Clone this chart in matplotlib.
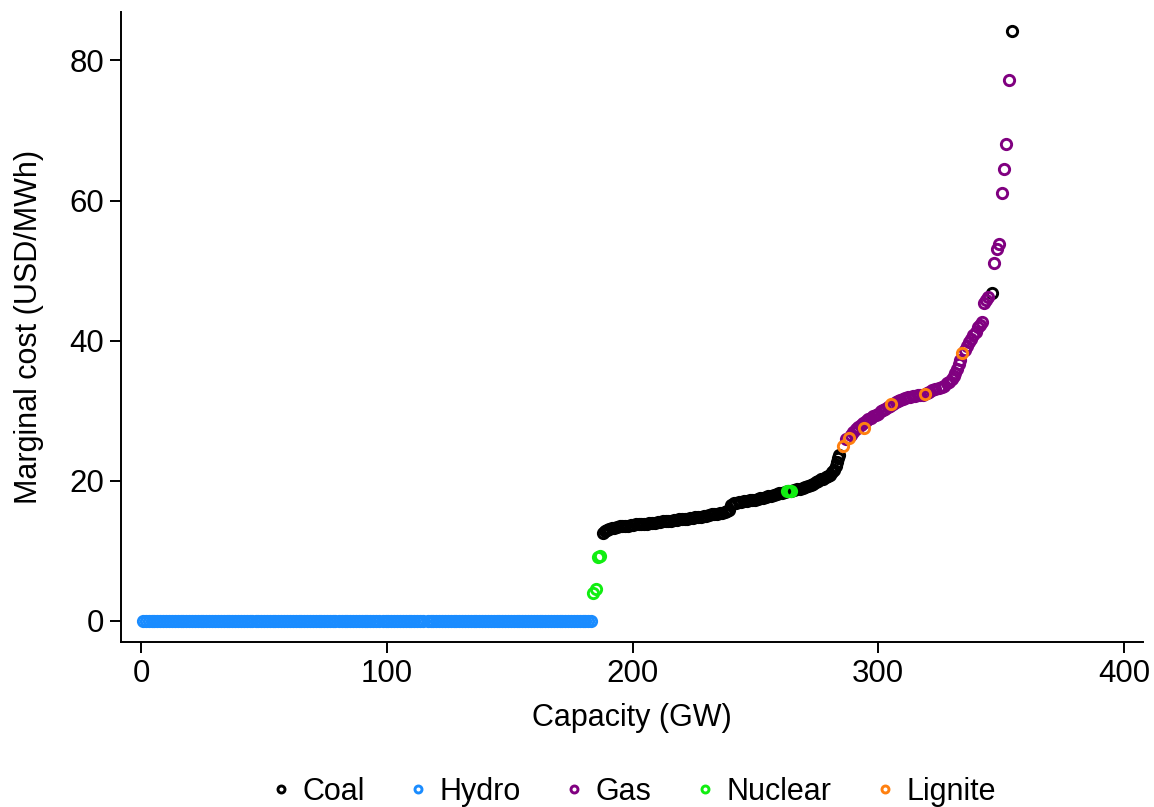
import matplotlib.pyplot as plt

plt.rcParams['font.family'] = ['Liberation Sans', 'DejaVu Sans']

# merit order: cumulative capacity (GW) and marginal cost (USD/MWh) per technology
hydro_gw = [0.8, 2.0, 3.1, 4.3, 5.4, 6.6, 7.9, 9.0, 10.2, 11.3, 12.5, 13.8, 14.9, 16.1,
            17.2, 18.4, 19.6, 20.8, 21.9, 23.1, 24.3, 25.4, 26.6, 27.8, 29.0, 30.1, 31.3,
            32.4, 33.7, 34.8, 36.0, 37.2, 38.3, 39.5, 40.7, 41.8, 43.0, 44.2, 45.3, 46.6,
            47.7, 48.9, 50.1, 51.2, 52.4, 53.6, 54.7, 55.9, 57.1, 58.2, 59.4, 60.6, 61.8,
            62.9, 64.1, 65.3, 66.4, 67.6, 68.8, 69.9, 71.1, 72.3, 73.4, 74.6, 75.8, 76.9,
            78.1, 78.9, 80.5, 81.6, 82.8, 84.0, 85.1, 86.3, 87.5, 88.6, 89.8, 91.0, 92.1,
            93.3, 94.5, 95.6, 96.8, 98.4, 99.5, 100.7, 101.9, 103.0, 104.2, 105.4, 106.5,
            107.7, 108.9, 110.0, 111.2, 112.4, 113.5, 114.9, 116.7, 117.8, 119.0, 120.2,
            121.3, 122.5, 123.7, 124.8, 126.0, 127.2, 128.3, 129.5, 130.7, 131.8, 133.0,
            134.2, 135.3, 136.5, 137.7, 138.8, 140.0, 141.2, 142.3, 143.5, 144.7, 145.8,
            147.0, 148.2, 149.3, 150.5, 151.7, 152.8, 154.0, 155.2, 156.3, 157.5, 158.7,
            159.8, 161.0, 162.2, 163.3, 164.5, 165.7, 166.8, 168.0, 169.2, 170.3, 171.5,
            172.7, 173.8, 175.0, 176.2, 177.3, 178.5, 179.7, 180.8, 181.9, 183.3]
hydro_cost = [0.0] * len(hydro_gw)

nuclear_gw = [183.9, 185.2, 185.9, 186.9, 262.9, 263.6, 264.4]
nuclear_cost = [4.0, 4.6, 9.2, 9.3, 18.6, 18.6, 18.6]

coal_gw = [187.8, 188.6, 189.5, 190.5, 191.5, 192.6, 193.7, 194.8, 195.9, 197.0, 198.1,
           199.2, 200.3, 201.4, 202.5, 203.6, 204.7, 205.8, 206.9, 208.0, 209.1, 210.2,
           211.3, 212.4, 213.5, 214.6, 215.7, 216.8, 217.9, 219.0, 220.1, 221.2, 222.3,
           223.4, 224.5, 225.6, 226.7, 227.8, 228.9, 230.0, 231.1, 232.2, 233.3, 234.4,
           235.5, 236.6, 237.7, 238.6, 239.4, 240.2, 241.1, 242.1, 243.2, 244.3, 245.4,
           246.5, 247.6, 248.7, 249.8, 250.9, 252.0, 253.1, 254.2, 255.3, 256.4, 257.5,
           258.6, 259.7, 260.8, 262.0, 263.2, 264.4, 265.6, 266.8, 268.0, 269.2, 270.3,
           271.4, 272.5, 273.6, 274.6, 275.6, 276.6, 277.6, 278.6, 279.6, 280.5, 281.3,
           282.0, 282.6, 283.1, 283.6, 284.1, 346.3, 354.5]
coal_cost = [12.6, 12.8, 13.0, 13.1, 13.2, 13.3, 13.4, 13.5, 13.5, 13.6, 13.6,
             13.7, 13.7, 13.8, 13.8, 13.8, 13.9, 13.9, 14.0, 14.0, 14.0, 14.1,
             14.1, 14.2, 14.2, 14.3, 14.3, 14.4, 14.4, 14.5, 14.5, 14.6, 14.6,
             14.7, 14.7, 14.8, 14.8, 14.9, 15.0, 15.0, 15.1, 15.2, 15.2, 15.3,
             15.4, 15.4, 15.5, 15.7, 15.9, 16.5, 16.8, 16.9, 17.0, 17.0, 17.1,
             17.1, 17.2, 17.3, 17.3, 17.4, 17.5, 17.6, 17.7, 17.8, 17.9, 18.0,
             18.1, 18.2, 18.3, 18.4, 18.5, 18.6, 18.7, 18.8, 18.9, 19.0, 19.1,
             19.3, 19.4, 19.6, 19.8, 20.0, 20.2, 20.3, 20.5, 20.7, 20.9, 21.2,
             21.5, 22.1, 22.7, 23.2, 23.7, 46.8, 84.2]

gas_gw = [287.0, 288.9, 289.9, 290.9, 291.9, 292.9, 293.9, 294.9, 295.9, 296.9, 297.9,
          298.9, 299.9, 300.9, 301.9, 302.9, 303.9, 304.9, 306.0, 307.0, 308.0, 309.0,
          310.0, 311.0, 312.0, 313.0, 314.0, 315.0, 316.0, 317.0, 318.0, 319.8, 320.8,
          322.0, 323.2, 324.6, 325.8, 326.8, 327.8, 328.8, 329.8, 330.6, 331.4, 332.1,
          332.8, 333.4, 335.4, 336.2, 337.0, 337.8, 338.6, 339.6, 340.4, 341.2, 342.1,
          343.2, 344.0, 344.8, 347.2, 348.3, 349.1, 350.3, 351.2, 352.0, 353.3]
gas_cost = [26.0, 26.6, 27.0, 27.4, 27.7, 28.0, 28.3, 28.5, 28.8, 29.0, 29.2,
            29.4, 29.6, 29.9, 30.1, 30.3, 30.5, 30.7, 31.0, 31.2, 31.4, 31.5,
            31.7, 31.8, 31.9, 32.0, 32.1, 32.1, 32.2, 32.2, 32.3, 32.5, 32.7,
            33.0, 33.1, 33.2, 33.4, 33.6, 33.9, 34.1, 34.5, 34.9, 35.4, 35.9,
            36.6, 37.3, 38.7, 39.2, 39.8, 40.3, 40.8, 41.3, 41.9, 42.3, 42.6,
            45.4, 45.8, 46.3, 51.1, 53.1, 53.8, 61.1, 64.5, 68.0, 77.2]

lignite_gw = [285.5, 288.2, 294.3, 305.3, 319.1, 334.1]
lignite_cost = [24.9, 26.1, 27.5, 30.9, 32.4, 38.2]

series = [
    ('Coal', coal_gw, coal_cost, 'black'),
    ('Hydro', hydro_gw, hydro_cost, '#1a8cff'),
    ('Gas', gas_gw, gas_cost, '#800080'),
    ('Nuclear', nuclear_gw, nuclear_cost, '#11ee11'),
    ('Lignite', lignite_gw, lignite_cost, '#ff8010'),
]

fig = plt.figure(figsize=(11.54, 8.07), dpi=100)
ax = fig.add_axes([121 / 1154, 165 / 807, 1022 / 1154, 630 / 807])

for name, xs, ys, col in series:
    ax.plot(xs, ys, 'o', ls='none', mfc='none', mec=col, ms=7.4, mew=2.1, label=name)

ax.set_xlim(-8.14, 407.7)
ax.set_ylim(-3.0, 86.9)
ax.set_xticks([0, 100, 200, 300, 400])
ax.set_yticks([0, 20, 40, 60, 80])

for s in ['top', 'right']:
    ax.spines[s].set_visible(False)
for s in ['left', 'bottom']:
    ax.spines[s].set_linewidth(1.4)

ax.tick_params(direction='out', length=8, width=1.4, labelsize=22.5, pad=4)
ax.set_xlabel('Capacity (GW)', fontsize=22, labelpad=10)
ax.set_ylabel('Marginal cost (USD/MWh)', fontsize=22, labelpad=18)

fig.legend(loc='center', bbox_to_anchor=(632 / 1154, 1 - 792 / 807), ncol=5,
           frameon=False, fontsize=22, handlelength=0.8, handletextpad=0.3,
           columnspacing=1.35, markerscale=0.68, borderaxespad=0)

fig.savefig('out.png', dpi=100)
